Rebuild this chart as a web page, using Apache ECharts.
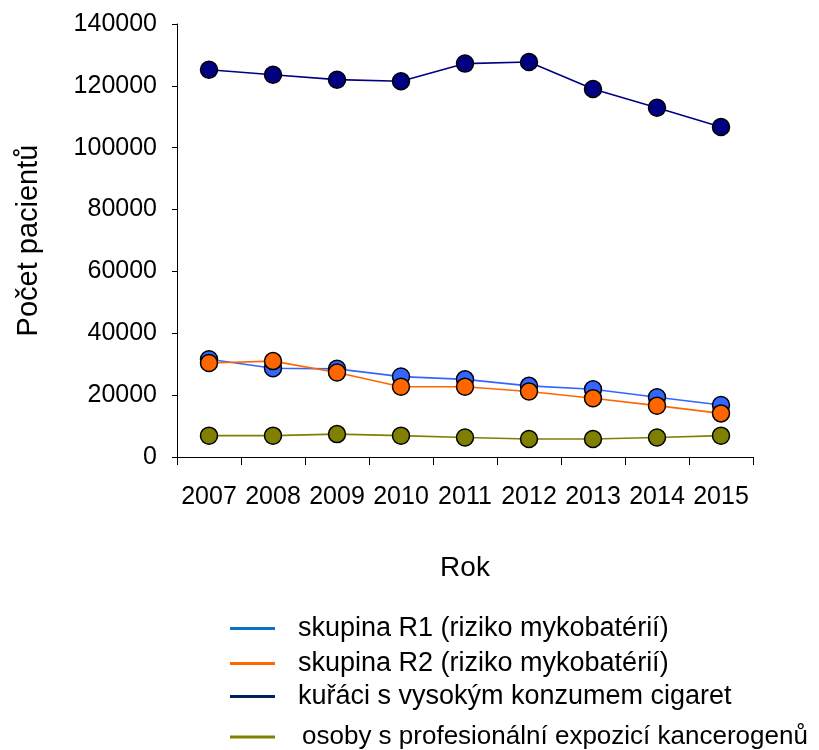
<!DOCTYPE html>
<html>
<head>
<meta charset="utf-8">
<script src="https://cdn.jsdelivr.net/npm/echarts@6/dist/echarts.min.js"></script>
<style>
  html, body { margin: 0; padding: 0; background: #fff; }
  #chart { width: 819px; height: 750px; }
</style>
</head>
<body>
<div id="chart"></div>
<script>
const years = ['2007', '2008', '2009', '2010', '2011', '2012', '2013', '2014', '2015']
const r1 = [31600, 28700, 28500, 26000, 25100, 23000, 21900, 19300, 16800]
const r2 = [30400, 31000, 27300, 22700, 22700, 21200, 19000, 16600, 14100]
const smokers = [125200, 123600, 122000, 121500, 127200, 127700, 119000, 112900, 106700]
const exposed = [6900, 6900, 7400, 6900, 6300, 5800, 5800, 6300, 6900]

const names = [
  'skupina R1 (riziko mykobatérií)',
  'skupina R2 (riziko mykobatérií)',
  'kuřáci s vysokým konzumem cigaret',
  'osoby s profesionální expozicí kancerogenů'
]
const lineColors = ['#3366ff', '#ff6600', '#000080', '#808000']
const legendColors = ['#0b70c6', '#ff6600', '#002060', '#808000']
const legendTops = [610, 645, 678, 719]
const legendFonts = [27, 27, 27, 26]
const legendPads = [18, 18, 18, 22]

const font = 'Liberation Sans, Arial, sans-serif'

const makeSeries = (name, data, color, z) => ({
  name: name,
  type: 'line',
  data: data,
  z: z,
  symbol: 'circle',
  symbolSize: 17,
  lineStyle: { color: color, width: 1.6 },
  itemStyle: { color: color, borderColor: '#000', borderWidth: 1.5 },
  emphasis: { disabled: true }
})

const chart = echarts.init(document.getElementById('chart'))
const option = {
  animation: false,
  backgroundColor: '#fff',
  textStyle: { fontFamily: font },
  grid: { left: 177, right: 66, top: 24, bottom: 293, containLabel: false },
  legend: names.map((n, i) => ({
    data: [{ name: n, itemStyle: { color: legendColors[i], borderWidth: 0 } }],
    orient: 'vertical',
    left: 225,
    top: legendTops[i],
    icon: 'rect',
    itemWidth: 45,
    itemHeight: 3,
    selectedMode: false,
    textStyle: { fontFamily: font, fontSize: legendFonts[i], color: '#000', padding: [0, 0, 0, legendPads[i]] }
  })),
  xAxis: {
    type: 'category',
    data: years,
    boundaryGap: true,
    name: 'Rok',
    nameLocation: 'middle',
    nameGap: 97,
    nameTextStyle: { fontSize: 28, color: '#000', fontFamily: font },
    axisLine: { lineStyle: { color: '#000', width: 1 } },
    axisTick: { show: true, length: 8, alignWithLabel: false, lineStyle: { color: '#000' } },
    axisLabel: { fontSize: 25, color: '#000', margin: 28, interval: 0, fontFamily: font },
    splitLine: { show: false }
  },
  yAxis: {
    type: 'value',
    min: 0,
    max: 140000,
    interval: 20000,
    name: 'Počet pacientů',
    nameLocation: 'middle',
    nameGap: 134,
    nameTextStyle: { fontSize: 29, color: '#000', fontFamily: font },
    axisLine: { show: true, lineStyle: { color: '#000', width: 1 } },
    axisTick: { show: true, length: 5, lineStyle: { color: '#000' } },
    axisLabel: { fontSize: 25, color: '#000', margin: 20, fontFamily: font, formatter: v => String(v) },
    splitLine: { show: false }
  },
  series: [
    makeSeries(names[0], r1, lineColors[0], 2),
    makeSeries(names[1], r2, lineColors[1], 3),
    makeSeries(names[2], smokers, lineColors[2], 4),
    makeSeries(names[3], exposed, lineColors[3], 5)
  ]
}
chart.setOption(option)
</script>
</body>
</html>
